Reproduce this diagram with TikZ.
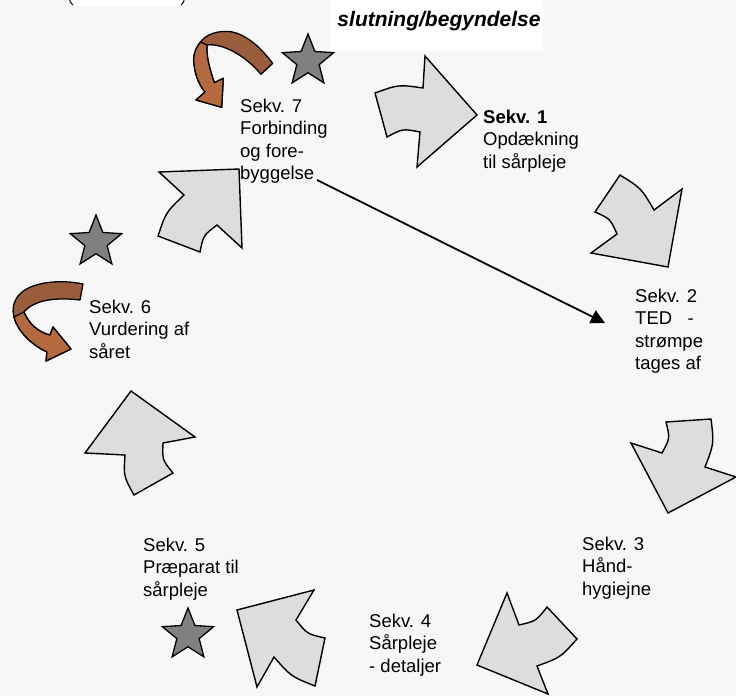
\documentclass[tikz,border=0pt]{standalone}
\usepackage{fontspec}
\setmainfont{Liberation Sans}
\usetikzlibrary{arrows.meta,shapes.geometric}
\definecolor{canvasgray}{HTML}{F7F7F7}
\definecolor{blockfill}{HTML}{DDDDDD}
\definecolor{stargray}{HTML}{808080}
\definecolor{rustdark}{HTML}{9A5D3C}
\definecolor{rustlight}{HTML}{B5693E}
\begin{document}
\begin{tikzpicture}[x=1pt,y=-1pt,
  blockarrow/.style={draw=black,line width=1.4pt,fill=blockfill,line join=miter},
  rust/.style={draw=black,line width=1.3pt,line join=round},
  starmark/.style={star,star points=5,star point ratio=2.3,minimum size=54pt,inner sep=0pt,draw=black,line width=1.3pt,fill=stargray},
  lbl/.style={anchor=base west,align=left,inner sep=0pt,font=\fontsize{18.5}{22.5}\selectfont},
  connector/.style={line width=1.8pt,-{Triangle[length=14pt,width=14pt]}}
]
\fill[canvasgray] (0,0) rectangle (736,696);
\useasboundingbox (0,0) rectangle (736,696);

% clipped boxes along the top edge
\fill[white] (73,0) rectangle (181,6);
\draw[line width=1pt] (69.5,-2) .. controls (70,2) .. (73,5);
\draw[line width=1pt] (184,-2) .. controls (184,2) .. (181,5);
\node[fill=white,minimum width=212pt,minimum height=51pt,inner sep=0pt,anchor=north west] (titlebox) at (331,0) {};
\node[anchor=base,inner sep=0pt,font=\fontsize{21}{24}\selectfont\bfseries\itshape] (title) at (439,27) {slutning/begyndelse};

% the seven bent block arrows, clockwise from the top;
% the tail sides are arcs bulging away from the middle of the ring
\draw[blockarrow] (375,93) .. controls (398.4,84.5) .. (423,88) -- (425,56) -- (477,115) -- (417,167) -- (420,132) .. controls (402.6,128.6) .. (387,137) -- cycle;
\draw[blockarrow] (620,175) .. controls (641.3,188.3) .. (654,210) -- (682,189) -- (668,267) -- (591,253) -- (617,234) .. controls (610.2,218.8) .. (595,212) -- cycle;
\draw[blockarrow] (711,419) .. controls (714,443.7) .. (705,467) -- (736,477) -- (668,513) -- (631,443) -- (662,453) .. controls (670,438.3) .. (666,422) -- cycle;
\draw[blockarrow] (577,639) .. controls (560.4,657.5) .. (537,666) -- (548,694) -- (477,665) -- (507,593) -- (519,625) .. controls (536.2,621) .. (547,607) -- cycle;
\draw[blockarrow] (315,686) .. controls (291,676.4) .. (274,657) -- (257,687) -- (237,610) -- (314,590) -- (296,620) .. controls (307.3,634.1) .. (325,638) -- cycle;
\draw[blockarrow] (134,495) .. controls (123.6,476.3) .. (125,455) -- (85,453) -- (131,391) -- (195,437) -- (163,443) .. controls (162.3,459.9) .. (173,473) -- cycle;
\draw[blockarrow] (158,236) .. controls (165.9,212.3) .. (184,195) -- (159,172) -- (239,169) -- (242,248) -- (217,225) .. controls (203.4,235.3) .. (200,252) -- cycle;

% twisted ribbon arrow beside step 7
\draw[rust,fill=rustdark] (272.7,63.3) .. controls (255,40) and (238,30) .. (223,31.5)
  .. controls (213,32) and (205,36) .. (200.5,42)
  .. controls (194,50) and (193,58) .. (194,64)
  .. controls (195,76) and (200,86) .. (205,92)
  -- (196,100) -- (221.7,107.3) -- (223.3,78.3) -- (214.3,82.7)
  .. controls (210,70) and (206,56) .. (207,45)
  .. controls (222,43) and (245,55) .. (261,74.3) -- cycle;
\draw[rust,fill=rustlight] (200.5,42)
  .. controls (194,50) and (193,58) .. (194,64)
  .. controls (195,76) and (200,86) .. (205,92)
  -- (196,100) -- (221.7,107.3) -- (223.3,78.3) -- (214.3,82.7)
  .. controls (210,70) and (206,56) .. (207,45) -- cycle;

% twisted ribbon arrow beside step 6
\draw[rust,fill=rustdark] (83,284) .. controls (60,279) and (30,282) .. (19,295)
  .. controls (13,302) and (12,310) .. (14,317)
  .. controls (18,332) and (32,345) .. (47,352)
  -- (46,361) -- (71,349) -- (53,327) -- (50,335)
  .. controls (38,332) and (29,324) .. (24,312)
  .. controls (34,300) and (55,297) .. (80,300) -- cycle;
\draw[rust,fill=rustlight] (14,317)
  .. controls (18,332) and (32,345) .. (47,352)
  -- (46,361) -- (71,349) -- (53,327) -- (50,335)
  .. controls (38,332) and (29,324) .. (24,312) -- cycle;

% stars
\node[starmark] (star7) at (308,61) {};
\node[starmark] (star6) at (96,242) {};
\node[starmark] (star5) at (188,635) {};

% step labels (anchored on the baseline of their last line)
\node[lbl] (s7) at (240,179.5) {Sekv. 7\\Forbinding\\og fore-\\byggelse};
\node[lbl] (s1) at (483,168) {\textbf{Sekv. 1}\\Opdækning\\til sårpleje};
\node[lbl] (s2) at (635,369.5) {Sekv. 2\\TED\ \ \ -\\strømpe\\tages af};
\node[lbl] (s3) at (582,595) {Sekv. 3\\Hånd-\\hygiejne};
\node[lbl] (s4) at (369,672) {Sekv. 4\\Sårpleje\\- detaljer};
\node[lbl] (s5) at (143,596) {Sekv. 5\\Præparat til\\sårpleje};
\node[lbl] (s6) at (89,358) {Sekv. 6\\Vurdering af\\såret};

% link from step 7 back to step 2
\coordinate (linkstart) at (317,180);
\coordinate (linkend) at (605,323);
\draw[connector] (linkstart) -- (linkend);
\end{tikzpicture}
\end{document}
